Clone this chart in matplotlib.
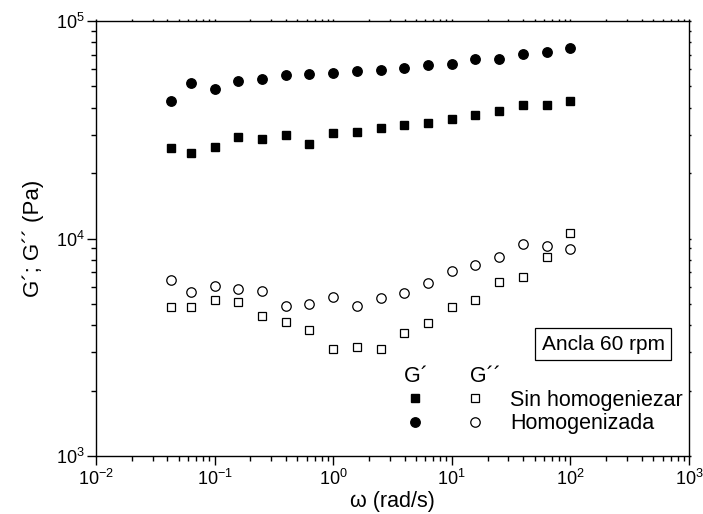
import matplotlib
matplotlib.use("Agg")
import matplotlib.pyplot as plt
from matplotlib.ticker import LogLocator, NullFormatter
from matplotlib.lines import Line2D

plt.rcParams["font.family"] = ["Liberation Sans", "DejaVu Sans"]
plt.rcParams["mathtext.fontset"] = "custom"
plt.rcParams["mathtext.rm"] = "Liberation Sans"
plt.rcParams["mathtext.it"] = "Liberation Sans:italic"
plt.rcParams["axes.unicode_minus"] = False

# angular frequency (rad/s)
omega = [0.043, 0.063, 0.1, 0.158, 0.251, 0.398, 0.631, 1.0, 1.58,
         2.51, 3.98, 6.31, 10.0, 15.8, 25.1, 39.8, 63.1, 100.0]

# storage modulus G' (Pa)
gp_sin = [26100, 24700, 26400, 29200, 28750, 29800, 27200, 30500, 30800,
          32200, 33400, 34100, 35300, 37100, 38500, 41200, 40950, 43100]
gp_hom = [42850, 51800, 48900, 53200, 54300, 56200, 57300, 57900, 59000,
          59700, 61000, 62800, 63400, 66700, 67100, 70800, 72000, 74800]

# loss modulus G'' (Pa)
gpp_sin = [4830, 4840, 5210, 5100, 4420, 4130, 3800, 3100, 3160,
           3110, 3660, 4100, 4830, 5210, 6310, 6670, 8250, 10640]
gpp_hom = [6430, 5690, 6050, 5840, 5740, 4910, 5000, 5370, 4910,
           5310, 5630, 6220, 7110, 7550, 8250, 9400, 9240, 8920]

labels = ["Sin homogeniezar", "Homogenizada"]

fig = plt.figure(figsize=(7.03, 5.14), dpi=100)
ax = fig.add_axes([96 / 703, 1 - 456 / 514, 593 / 703, 435 / 514])

ms_sq, ms_ci = 6.0, 6.8
ax.plot(omega, gp_sin, ls="none", marker="s", ms=ms_sq, color="black")
ax.plot(omega, gp_hom, ls="none", marker="o", ms=ms_ci, color="black")
ax.plot(omega, gpp_sin, ls="none", marker="s", ms=ms_sq, mfc="white",
        mec="black", mew=0.9)
ax.plot(omega, gpp_hom, ls="none", marker="o", ms=ms_ci, mfc="white",
        mec="black", mew=0.9)

ax.set_xscale("log")
ax.set_yscale("log")
ax.set_xlim(1e-2, 1e3)
ax.set_ylim(1e3, 1e5)

for a in (ax.xaxis, ax.yaxis):
    a.set_major_locator(LogLocator(base=10, numticks=10))
    a.set_minor_locator(LogLocator(base=10, subs=range(2, 10), numticks=10))
    a.set_minor_formatter(NullFormatter())

ax.tick_params(which="major", direction="out", length=6.5, width=1.0,
               labelsize=13, top=True, right=True)
ax.tick_params(which="minor", direction="out", length=3.8, width=1.0,
               top=True, right=True)
ax.tick_params(axis="x", which="major", pad=3)
ax.tick_params(axis="y", which="major", pad=1.5)
# short marks on the top and right edges
for t in ax.xaxis.get_major_ticks() + ax.xaxis.get_minor_ticks():
    t.tick2line.set_markersize(1.5)
for t in ax.yaxis.get_major_ticks() + ax.yaxis.get_minor_ticks():
    t.tick2line.set_markersize(1.5)

for s in ax.spines.values():
    s.set_linewidth(1.0)

ax.set_xlabel("ω (rad/s)", fontsize=15.5, labelpad=1)
ax.set_ylabel("G´; G´´ (Pa)", fontsize=16, labelpad=9)

ax.text(0.855, 0.257, "Ancla 60 rpm", transform=ax.transAxes,
        ha="center", va="center", fontsize=15,
        bbox=dict(boxstyle="square,pad=0.3", fc="white", ec="black", lw=0.9))

handles = [
    Line2D([], [], ls="none", marker="s", ms=ms_sq, color="black"),
    Line2D([], [], ls="none", marker="o", ms=ms_ci, color="black"),
    Line2D([], [], ls="none", marker="s", ms=ms_sq, mfc="white", mec="black", mew=0.9),
    Line2D([], [], ls="none", marker="o", ms=ms_ci, mfc="white", mec="black", mew=0.9),
]
leg = ax.legend(handles, ["", "", labels[0], labels[1]], ncol=2,
                loc="lower left", bbox_to_anchor=(0.52, 0.05),
                frameon=False, fontsize=15.5, handlelength=1.0,
                handletextpad=1.15, columnspacing=0.62, labelspacing=0.12,
                borderpad=0, borderaxespad=0,
                title="G´       G´´", title_fontsize=15.5,
                alignment="left")

fig.savefig("out.png", dpi=100)
